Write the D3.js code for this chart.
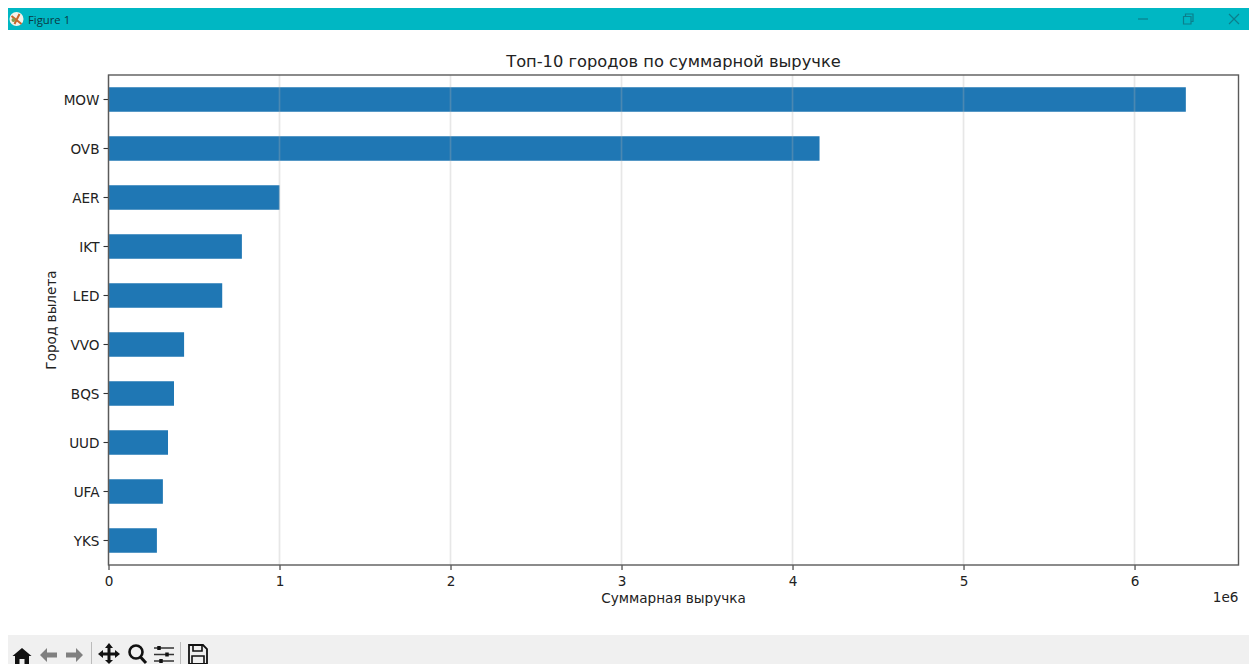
<!DOCTYPE html>
<html><head><meta charset="utf-8">
<script src="https://cdnjs.cloudflare.com/ajax/libs/d3/7.8.5/d3.min.js"></script>
<style>html,body{margin:0;padding:0;background:#fff;overflow:hidden}svg{display:block}text{font-family:"DejaVu Sans",sans-serif;fill:#222}</style>
</head><body><svg id="c" width="1249" height="664"></svg>
<script>
const categories = ["MOW","OVB","AER","IKT","LED","VVO","BQS","UUD","UFA","YKS"];
const revenue = [6300000,4158000,1000000,780000,665000,442000,383000,348000,318000,283000];
const xTicks = [0,1,2,3,4,5,6];
const chartTitle = "Топ-10 городов по суммарной выручке";
const xTitle = "Суммарная выручка";
const yTitle = "Город вылета";
const windowTitle = "Figure 1";

const svg = d3.select("#c");
const L=108.5,R=1238.5,T=75,B=565;
// window chrome
svg.append("rect").attr("x",8).attr("y",8).attr("width",1241).attr("height",22).attr("fill","#00b7c3");
svg.append("rect").attr("x",8).attr("y",635).attr("width",1241).attr("height",29).attr("fill","#f0f0f0");
const logo=svg.append("g").attr("transform","translate(16.5,19)");
logo.append("circle").attr("r",7).attr("fill","#f4f1ea");
logo.append("path").attr("d","M-5,-3L5,5M-2,5L3,-5").attr("stroke","#c8642a").attr("stroke-width",2);
logo.append("circle").attr("cx",-3).attr("cy",1).attr("r",2).attr("fill","#8a9a4a");
svg.append("text").attr("x",28).attr("y",23.5).style("font-family","'Open Sans',sans-serif").style("font-size","11.3px").style("fill","#0a3a44").text(windowTitle);
const wc=svg.append("g").attr("fill","none").attr("stroke","#0b7f8c").attr("stroke-width",1.2);
wc.append("path").attr("d","M1138,19H1148");
wc.append("path").attr("d","M1183.5,16.5h7.5v7.5h-7.5zM1185.5,16.5v-2.5h7.5v7.5h-2");
wc.append("path").attr("d","M1229,14L1239,24M1239,14L1229,24");

const x=d3.scaleLinear().domain([0,6608000]).range([L,R]);
const y=d3.scaleBand().domain(categories).range([T,B]).paddingInner(0.5).paddingOuter(0.25);

// bars
svg.append("g").selectAll("rect").data(categories).join("rect")
 .attr("x",x(0)).attr("y",d=>y(d)).attr("height",y.bandwidth())
 .attr("width",(d,i)=>x(revenue[i])-x(0)).attr("fill","#1f77b4");
// grid drawn above bars, as in the reference
svg.append("g").selectAll("line").data(xTicks).join("line")
 .attr("x1",d=>x(d*1e6)).attr("x2",d=>x(d*1e6)).attr("y1",T).attr("y2",B)
 .attr("stroke","#b0b0b0").attr("stroke-opacity",.3).attr("stroke-width",1.7);

const xAxis=svg.append("g").attr("transform",`translate(0,${B})`)
 .call(d3.axisBottom(x).tickValues(xTicks.map(d=>d*1e6)).tickFormat(d=>d/1e6).tickSize(5).tickPadding(6));
const yAxis=svg.append("g").attr("transform",`translate(${L},0)`)
 .call(d3.axisLeft(y).tickSize(5).tickPadding(4));
[xAxis,yAxis].forEach(a=>{a.select(".domain").remove();a.selectAll("line").attr("stroke","#333").attr("stroke-width",1.1);
 a.selectAll("text").style("font-size","13.6px").style("font-family","'DejaVu Sans',sans-serif").attr("fill","#222");});
yAxis.selectAll("text").attr("dy","0.38em");
svg.append("rect").attr("x",L).attr("y",T).attr("width",R-L).attr("height",B-T).attr("fill","none").attr("stroke","#5a5a5a").attr("stroke-width",1.4);

svg.append("text").attr("x",(L+R)/2).attr("y",67).attr("text-anchor","middle").style("font-size","16.3px").text(chartTitle);
svg.append("text").attr("x",(L+R)/2).attr("y",603).attr("text-anchor","middle").style("font-size","13.6px").text(xTitle);
svg.append("text").attr("transform","translate(55.5,320) rotate(-90)").attr("text-anchor","middle").style("font-size","13.6px").text(yTitle);
svg.append("text").attr("x",1238.5).attr("y",601.5).attr("text-anchor","end").style("font-size","13.6px").text("1e6");

// toolbar icons
const tb=svg.append("g");
tb.append("path").attr("d","M12.5,656L22,648L31.5,656L29,656V664H24.5V659H19.5V664H15V656Z").attr("fill","#111");
tb.append("path").attr("d","M40,655L47,648V652.5H57V657.5H47V662Z").attr("fill","#808080");
tb.append("path").attr("d","M83,655L76,648V652.5H66V657.5H76V662Z").attr("fill","#808080");
tb.append("path").attr("d","M91.5,642V664").attr("stroke","#bbb");
tb.append("path").attr("d","M109,643L113,648H110.5V652.5H115V650L120,654L115,658V655.5H110.5V660H113L109,664L105,660H107.5V655.5H103V658L98,654L103,650V652.5H107.5V648H105Z").attr("fill","#111");
tb.append("circle").attr("cx",136).attr("cy",652).attr("r",6.5).attr("fill","none").attr("stroke","#111").attr("stroke-width",2.6);
tb.append("path").attr("d","M140.5,657L146,663").attr("stroke","#111").attr("stroke-width",3);
tb.append("path").attr("d","M154,648H174M154,654.5H174M154,661H174").attr("stroke","#333").attr("stroke-width",1.4);
tb.append("path").attr("d","M159,646v4M167,652.5v4M161,659v4").attr("stroke","#111").attr("stroke-width",3.5);
tb.append("path").attr("d","M180.5,642V664").attr("stroke","#bbb");
tb.append("path").attr("d","M189,645H203L207,649V664H189Z").attr("fill","none").attr("stroke","#111").attr("stroke-width",1.8);
tb.append("path").attr("d","M193,645V651H202V645M192,664V656H204V664").attr("fill","none").attr("stroke","#111").attr("stroke-width",1.6);
</script></body></html>
